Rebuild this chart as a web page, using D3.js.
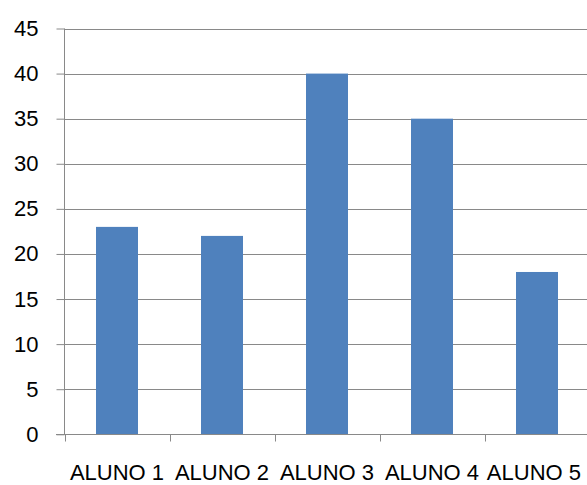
<!DOCTYPE html>
<html><head><meta charset="utf-8">
<script src="https://cdn.jsdelivr.net/npm/d3@7"></script>
<style>html,body{margin:0;padding:0;background:#fff;}svg{display:block;}</style>
</head><body>
<script>
const categories = ["ALUNO 1","ALUNO 2","ALUNO 3","ALUNO 4","ALUNO 5"];
const values = [23, 22, 40, 35, 18];
const yTicks = [0,5,10,15,20,25,30,35,40,45];

const W = 587, H = 485;
const svg = d3.select("body").append("svg").attr("width", W).attr("height", H);
const x = d3.scaleBand().domain(categories).range([64.5, 589.5]).paddingInner(0.6).paddingOuter(0.3);
const y = d3.scaleLinear().domain([0,45]).range([434.3, 28.5]);
const grid = "#898989";
const font = "'Liberation Sans', Arial, sans-serif";

// gridlines
svg.append("g").selectAll("line").data(yTicks.filter(d=>d>0)).join("line")
  .attr("x1", 64.5).attr("x2", W).attr("y1", d=>Math.round(y(d))+0.5).attr("y2", d=>Math.round(y(d))+0.5)
  .attr("stroke", grid).attr("stroke-width", 1);

// bars
svg.append("g").selectAll("rect").data(values).join("rect")
  .attr("x", (d,i)=>x(categories[i])).attr("width", x.bandwidth())
  .attr("y", d=>y(d)).attr("height", d=>y(0)-y(d)).attr("fill", "#4F81BD");

// y axis
const yAxis = d3.axisLeft(y).tickValues(yTicks).tickSize(8).tickPadding(18);
const gy = svg.append("g").attr("transform", "translate(64.5,0)").call(yAxis);
gy.select(".domain").attr("stroke", grid).attr("d", `M0,${y(45)}V${y(0)}`);
gy.selectAll(".tick line").attr("stroke", grid);
gy.selectAll(".tick text").attr("font-family", font).attr("font-size", 22).attr("fill", "#000");

// x axis
const xEdge = d3.scaleBand().domain(categories).range([64.5, 589.5]);
const gx = svg.append("g").attr("transform", `translate(0,${Math.round(y(0))+0.5})`);
gx.append("line").attr("x1", 56).attr("x2", W).attr("stroke", grid);
gx.selectAll("line.t").data(categories).join("line").attr("class","t")
  .attr("x1", d=>Math.round(xEdge(d))+0.5).attr("x2", d=>Math.round(xEdge(d))+0.5)
  .attr("y1", 0).attr("y2", 7).attr("stroke", grid);
gx.selectAll("text").data(categories).join("text")
  .attr("x", d=>x(d)+x.bandwidth()/2).attr("y", 45.5)
  .attr("text-anchor", "middle").attr("font-family", font).attr("font-size", 22).attr("fill", "#000")
  .text(d=>d)
  .each(function(){
    const w = this.getComputedTextLength();
    const cx = +this.getAttribute("x");
    if (cx + w/2 > 581) d3.select(this).attr("x", 581 - w/2);
  });
</script>
</body></html>
